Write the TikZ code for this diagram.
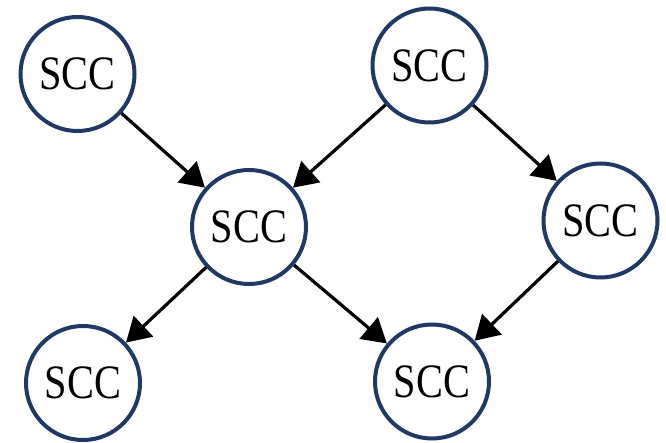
\documentclass[tikz,border=0pt]{standalone}
\usepackage{fontspec}
\setmainfont{Liberation Serif}
\usetikzlibrary{arrows.meta}
\definecolor{sccblue}{HTML}{1F3864}
\tikzset{
  scc/.style={circle, draw=sccblue, line width=4pt, minimum size=114pt, inner sep=0pt,
    font=\fontsize{48}{48}\selectfont},
  link/.style={line width=3.2pt, -{Triangle[length=24pt,width=28pt]}}
}
\newcommand{\scclabel}{\raisebox{-3pt}{\scalebox{0.84}[1]{SCC}}}
\begin{document}
\begin{tikzpicture}[x=1pt,y=-1pt]
  \useasboundingbox (0,0) rectangle (666,443);
  \node[scc] (a) at (77.5,74) {\scclabel};
  \node[scc] (b) at (429.5,65.5) {\scclabel};
  \node[scc] (c) at (249,227) {\scclabel};
  \node[scc] (d) at (600.5,220.5) {\scclabel};
  \node[scc] (e) at (83,383) {\scclabel};
  \node[scc] (f) at (432,381.5) {\scclabel};
  \draw[link] (a) -- (c);
  \draw[link] (b) -- (c);
  \draw[link] (b) -- (d);
  \draw[link] (c) -- (e);
  \draw[link] (c) -- (f);
  \draw[link] (d) -- (f);
\end{tikzpicture}
\end{document}
